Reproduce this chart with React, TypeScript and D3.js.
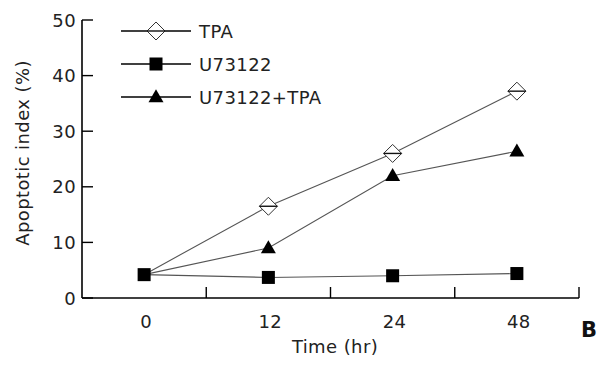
import { useEffect, useRef } from 'react';
import * as d3 from 'd3';

const timeLabels = ['0', '12', '24', '48'];
const tpaValues = [4.2, 16.5, 26.0, 37.2];
const u73122Values = [4.2, 3.7, 4.0, 4.4];
const comboValues = [4.2, 9.0, 22.0, 26.4];
const yTicks = [0, 10, 20, 30, 40, 50];

const seriesList = [
  { name: 'TPA', values: tpaValues, marker: 'diamond' },
  { name: 'U73122', values: u73122Values, marker: 'square' },
  { name: 'U73122+TPA', values: comboValues, marker: 'triangle' },
];

const FONT = '"DejaVu Sans", Verdana, sans-serif';

export default function App() {
  const svgRef = useRef<SVGSVGElement>(null);

  useEffect(() => {
    if (!svgRef.current) return;
    const svg = d3.select(svgRef.current);
    svg.selectAll('*').remove();

    const left = 82;
    const right = 579;
    const bottom = 298;
    const top = 20;

    const x = d3.scaleBand<string>().domain(timeLabels).range([left, right]).padding(0);
    const y = d3.scaleLinear().domain([0, 50]).range([bottom, top]);
    const cx = (i: number) => (x(timeLabels[i]) as number) + x.bandwidth() / 2;

    // draw a marker at (px, py)
    const drawMarker = (g: any, kind: string, px: number, py: number) => {
      if (kind === 'diamond') {
        const r = 9;
        g.append('path')
          .attr('d', `M${px},${py - r}L${px + r},${py}L${px},${py + r}L${px - r},${py}Z`)
          .attr('fill', '#fff')
          .attr('stroke', '#333')
          .attr('stroke-width', 1);
        g.append('line')
          .attr('x1', px - r).attr('x2', px + r)
          .attr('y1', py).attr('y2', py)
          .attr('stroke', '#111')
          .attr('stroke-width', 1.4);
      } else if (kind === 'square') {
        const s = 13;
        g.append('rect')
          .attr('x', px - s / 2).attr('y', py - s / 2)
          .attr('width', s).attr('height', s)
          .attr('fill', '#000');
      } else {
        const w = 15;
        const h = 13;
        g.append('path')
          .attr('d', `M${px},${py - h * 0.6}L${px + w / 2},${py + h * 0.4}L${px - w / 2},${py + h * 0.4}Z`)
          .attr('fill', '#000');
      }
    };

    const label = (sel: any) => sel
      .attr('font-family', FONT)
      .attr('font-size', 18)
      .attr('letter-spacing', 0.4)
      .attr('fill', '#222');

    // y axis
    svg.append('line')
      .attr('x1', left).attr('x2', left)
      .attr('y1', y(50)).attr('y2', bottom)
      .attr('stroke', '#000').attr('stroke-width', 1.6);
    yTicks.forEach(t => {
      svg.append('line')
        .attr('x1', left).attr('x2', left + 11)
        .attr('y1', y(t)).attr('y2', y(t))
        .attr('stroke', '#000').attr('stroke-width', 1.4);
      svg.append('text')
        .attr('x', left - 6)
        .attr('y', y(t) + 6.5)
        .attr('text-anchor', 'end')
        .call(label)
        .text(t);
    });

    // x axis
    svg.append('line')
      .attr('x1', left).attr('x2', right)
      .attr('y1', bottom).attr('y2', bottom)
      .attr('stroke', '#000').attr('stroke-width', 1.6);
    timeLabels.forEach((t, i) => {
      const edge = (x(t) as number) + x.bandwidth();
      svg.append('line')
        .attr('x1', edge).attr('x2', edge)
        .attr('y1', bottom).attr('y2', bottom - 11)
        .attr('stroke', '#000').attr('stroke-width', 1.4);
      svg.append('text')
        .attr('x', cx(i) + 2)
        .attr('y', 328)
        .attr('text-anchor', 'middle')
        .call(label)
        .text(t);
    });

    // axis titles
    svg.append('text')
      .attr('transform', 'rotate(-90)')
      .attr('x', -153)
      .attr('y', 29)
      .attr('text-anchor', 'middle')
      .call(label)
      .text('Apoptotic index (%)');

    svg.append('text')
      .attr('x', 335)
      .attr('y', 353)
      .attr('text-anchor', 'middle')
      .call(label)
      .text('Time (hr)');

    svg.append('text')
      .attr('x', 581)
      .attr('y', 337)
      .attr('font-family', FONT)
      .attr('font-size', 21)
      .attr('font-weight', 'bold')
      .attr('fill', '#111')
      .text('B');

    // series lines
    const line = d3.line<number>()
      .x((_, i) => cx(i))
      .y(d => y(d));

    seriesList.forEach(s => {
      svg.append('path')
        .datum(s.values)
        .attr('fill', 'none')
        .attr('stroke', '#555')
        .attr('stroke-width', 1.1)
        .attr('d', line);
    });

    // markers: the shared start point only shows the square
    const markers = svg.append('g');
    const drawOrder = [seriesList[0], seriesList[2], seriesList[1]];
    drawOrder.forEach(s => {
      s.values.forEach((v, i) => {
        if (s.marker !== 'square' && v === u73122Values[i]) return;
        drawMarker(markers, s.marker, cx(i), y(v));
      });
    });

    // legend
    const legend = svg.append('g');
    seriesList.forEach((s, i) => {
      const ly = 31 + i * 33;
      legend.append('line')
        .attr('x1', 121).attr('x2', 191)
        .attr('y1', ly).attr('y2', ly)
        .attr('stroke', '#000').attr('stroke-width', 1.3);
      drawMarker(legend, s.marker, 156, ly);
      legend.append('text')
        .attr('x', 199)
        .attr('y', ly + 6.5)
        .call(label)
        .text(s.name);
    });
  }, []);

  return (
    <svg
      ref={svgRef}
      width={600}
      height={365}
      style={{ position: 'absolute', left: 0, top: 0, background: '#fff' }}
    />
  );
}
